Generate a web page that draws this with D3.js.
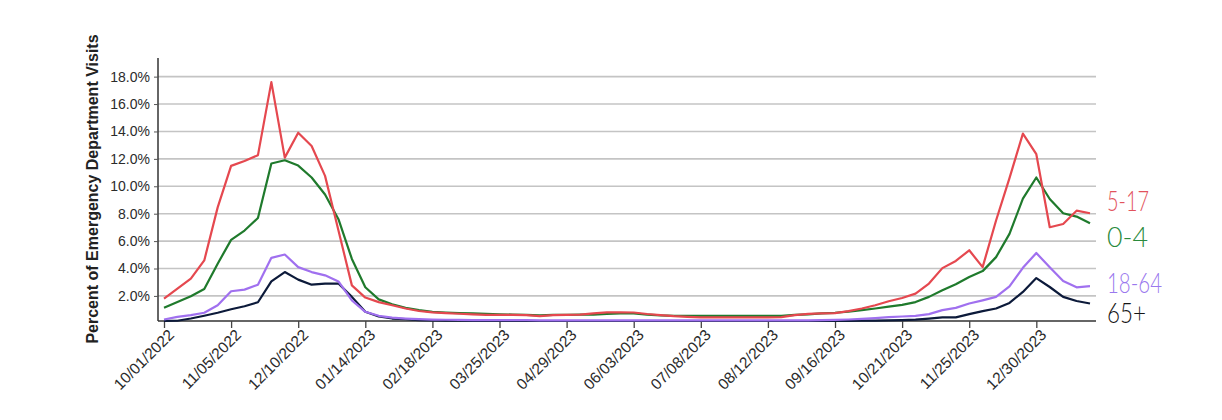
<!DOCTYPE html>
<html><head><meta charset="utf-8">
<script src="https://cdn.jsdelivr.net/npm/d3@7"></script>
<style>
body{margin:0;background:#fff;}
svg{display:block;}
</style></head>
<body><svg id="chart" width="1222" height="420"></svg>
<script>
const startDate = "2022-10-01";
const weekCount = 70;
const seriesNames = ["5-17", "0-4", "18-64", "65+"];
const seriesColors = ["#e5484f", "#1f7a2c", "#a070ef", "#0c1a3a"];
const labelColors = ["#e2525c", "#2a8a3c", "#9a78ee", "#151515"];
const yTickValues = [2, 4, 6, 8, 10, 12, 14, 16, 18];
const xTickLabels = ["10/01/2022","11/05/2022","12/10/2022","01/14/2023","02/18/2023","03/25/2023","04/29/2023","06/03/2023","07/08/2023","08/12/2023","09/16/2023","10/21/2023","11/25/2023","12/30/2023"];

const age5to17 = [1.81,2.53,3.26,4.59,8.46,11.49,11.85,12.27,17.6,12.09,13.91,12.94,10.76,6.77,2.77,1.88,1.55,1.32,1.08,0.9,0.8,0.74,0.7,0.66,0.62,0.62,0.62,0.6,0.52,0.6,0.62,0.64,0.72,0.8,0.81,0.79,0.68,0.6,0.52,0.47,0.43,0.43,0.43,0.43,0.43,0.43,0.45,0.6,0.69,0.72,0.74,0.89,1.08,1.32,1.61,1.85,2.17,2.9,4.03,4.55,5.33,4.1,7.5,10.6,13.84,12.34,7.01,7.25,8.22,8.03];
const age0to4 = [1.13,1.55,1.98,2.5,4.35,6.09,6.77,7.69,11.66,11.9,11.51,10.64,9.4,7.6,4.7,2.63,1.75,1.39,1.13,0.96,0.84,0.78,0.74,0.72,0.7,0.66,0.64,0.62,0.58,0.62,0.62,0.64,0.64,0.68,0.72,0.72,0.64,0.58,0.55,0.55,0.55,0.55,0.55,0.55,0.55,0.55,0.55,0.62,0.66,0.72,0.77,0.86,0.96,1.08,1.22,1.35,1.55,1.93,2.41,2.85,3.38,3.81,4.83,6.53,9.1,10.64,9.07,8.03,7.79,7.3];
const age18to64 = [0.28,0.47,0.6,0.77,1.32,2.34,2.46,2.82,4.78,5.02,4.1,3.74,3.5,3.06,1.68,0.84,0.55,0.42,0.35,0.3,0.27,0.26,0.25,0.24,0.23,0.23,0.23,0.23,0.22,0.22,0.22,0.22,0.22,0.22,0.22,0.22,0.22,0.22,0.22,0.22,0.22,0.22,0.22,0.22,0.22,0.22,0.22,0.22,0.22,0.23,0.25,0.28,0.32,0.38,0.45,0.5,0.55,0.67,0.96,1.13,1.45,1.68,1.93,2.7,4.05,5.13,4.1,3.09,2.63,2.72];
const age65plus = [0.18,0.19,0.35,0.55,0.77,1.03,1.25,1.54,3.06,3.74,3.19,2.82,2.9,2.9,1.93,0.84,0.5,0.35,0.3,0.23,0.21,0.2,0.2,0.18,0.17,0.17,0.17,0.17,0.17,0.17,0.17,0.17,0.17,0.17,0.17,0.17,0.17,0.17,0.17,0.17,0.17,0.17,0.17,0.17,0.17,0.17,0.17,0.17,0.17,0.17,0.17,0.18,0.2,0.2,0.21,0.23,0.27,0.35,0.43,0.43,0.67,0.89,1.08,1.49,2.29,3.3,2.65,1.93,1.63,1.45];

const seriesValues = [age5to17, age0to4, age18to64, age65plus];
const parse = d3.timeParse("%Y-%m-%d");
const t0 = parse(startDate);
const dates = d3.range(weekCount).map(i => d3.timeDay.offset(t0, 7 * i));

const svg = d3.select("#chart");
const plotL = 158, plotR = 1096, plotT = 58, plotB = 321;

const x = d3.scaleTime().domain([dates[0], dates[dates.length - 1]]).range([164, 1090]);
const allVals = seriesValues.flat();
const y = d3.scaleLinear().domain([d3.min(allVals), d3.max(allVals) * 1.1]).range([plotB, plotT]);

// gridlines
svg.append("g").selectAll("line").data(yTickValues).join("line")
  .attr("x1", plotL).attr("x2", plotR)
  .attr("y1", d => y(d)).attr("y2", d => y(d))
  .attr("stroke", "#c4c4c4").attr("stroke-width", 1.6);

// y axis
const yAxis = svg.append("g").attr("transform", `translate(${plotL},0)`)
  .call(d3.axisLeft(y).tickValues(yTickValues).tickSize(4).tickPadding(4).tickFormat(d => d3.format(".1f")(d) + "%"));
yAxis.select(".domain").attr("d", `M0,${plotT}V${plotB}`).attr("stroke", "#333").attr("stroke-width", 1.5);
yAxis.selectAll(".tick line").attr("stroke", "#555");
yAxis.selectAll("text").attr("font-family", "Liberation Sans, Arial, sans-serif").attr("font-size", 14).attr("fill", "#2b2b2b");

// x axis
const tickDates = xTickLabels.map(s => d3.timeParse("%m/%d/%Y")(s));
const xAxis = svg.append("g").attr("transform", `translate(0,${plotB})`)
  .call(d3.axisBottom(x).tickValues(tickDates).tickSize(7).tickFormat((d, i) => xTickLabels[i]));
xAxis.select(".domain").attr("d", `M${plotL},0H${plotR}`).attr("stroke", "#333").attr("stroke-width", 1.5);
xAxis.selectAll(".tick line").attr("stroke", "#444").attr("stroke-width", 1.3);
xAxis.selectAll("text")
  .attr("font-family", "Liberation Sans, Arial, sans-serif").attr("font-size", 15.5).attr("fill", "#2b2b2b")
  .attr("text-anchor", "end").attr("x", -3).attr("y", 7).attr("dy", "0.71em")
  .attr("transform", "rotate(-45)");

// lines
const line = d3.line().x((d, i) => x(dates[i])).y(d => y(d));
svg.append("g").selectAll("path").data(seriesValues.slice().reverse()).join("path")
  .attr("d", d => line(d))
  .attr("fill", "none")
  .attr("stroke", (d, i) => seriesColors[seriesValues.length - 1 - i])
  .attr("stroke-width", 2.2)
  .attr("stroke-linejoin", "round");

// y title
svg.append("text")
  .attr("transform", `translate(98,189) rotate(-90)`)
  .attr("text-anchor", "middle")
  .attr("font-family", "Liberation Sans, Arial, sans-serif")
  .attr("font-weight", "bold").attr("font-size", 16).attr("fill", "#222")
  .text("Percent of Emergency Department Visits");

// direct labels
const labelBaselines = [211, 247, 293, 323];
const labelWidths = [42, 41, 55, 39];
svg.append("g").selectAll("text").data(seriesNames).join("text")
  .attr("x", 1107).attr("y", (d, i) => labelBaselines[i])
  .attr("font-family", "Lato, 'Open Sans', sans-serif")
  .attr("font-size", 27).attr("font-weight", 300)
  .attr("textLength", (d, i) => labelWidths[i]).attr("lengthAdjust", "spacingAndGlyphs")
  .attr("fill", (d, i) => labelColors[i])
  .text(d => d);
</script></body></html>
